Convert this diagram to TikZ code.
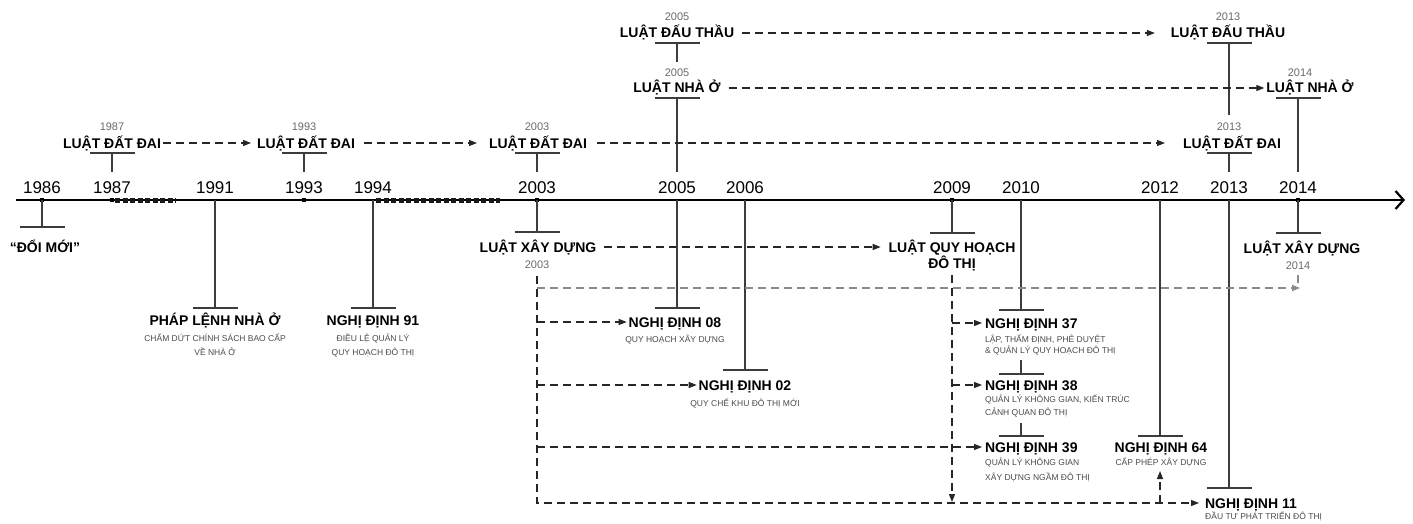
\documentclass[tikz,border=0pt]{standalone}
\usepackage{fontspec}
\setmainfont{Liberation Sans}
\usetikzlibrary{arrows.meta}
\definecolor{lineg}{HTML}{3C3C3C}
\definecolor{yrg}{HTML}{6A6A6A}
\definecolor{subg}{HTML}{4A4A4A}
\definecolor{dashg}{HTML}{8A8A8A}
\tikzset{
 lawtxt/.style={font=\bfseries\fontsize{14}{14}\selectfont, inner sep=0pt, outer sep=0pt},
 yrtxt/.style={font=\fontsize{17}{17}\selectfont, inner sep=0pt},
 syr/.style={font=\fontsize{11}{11}\selectfont, text=yrg, inner sep=0pt},
 subtxt/.style={font=\fontsize{8.5}{8.5}\selectfont, text=subg, inner sep=0pt},
 vline/.style={draw=lineg, line width=1.3pt},
 barline/.style={draw=lineg, line width=1.8pt},
 darr/.style={draw=black!85, line width=1.2pt, dash pattern=on 8pt off 5pt, -{Triangle[length=8pt,width=6pt]}},
 garr/.style={draw=dashg, line width=1.3pt, dash pattern=on 8pt off 5pt, -{Triangle[length=8pt,width=6pt]}},
 gline/.style={draw=dashg, line width=1.3pt, dash pattern=on 8pt off 5pt},
 thickdash/.style={line width=5pt, dash pattern=on 5pt off 2.5pt, draw=black!90},
 tickmark/.style={fill=black, minimum width=4pt, minimum height=4pt, inner sep=0pt},
}
\newcommand\tlbar[1]{\draw[barline] ([xshift=-22.5pt]#1) -- ([xshift=22.5pt]#1);}
\begin{document}
\begin{tikzpicture}[x=1pt,y=-1pt]
\useasboundingbox (0,0) rectangle (1413,524);

% ---------- axis ----------
\coordinate (axL) at (16,200);
\coordinate (axR) at (1405,200);
\draw[line width=2.2pt, -{Straight Barb[length=8pt,width=18pt,line width=2.2pt]}] (axL) -- (axR);
\coordinate (thA1) at (115,200); \coordinate (thA2) at (176,200);
\coordinate (thB1) at (376,200); \coordinate (thB2) at (500,200);
\draw[thickdash] (thA1) -- (thA2);
\draw[thickdash] (thB1) -- (thB2);

\foreach \yr/\xx in {1986/42,1987/112,1991/215,1993/304,1994/373,2003/537,2005/677,2006/745,2009/952,2010/1021,2012/1160,2013/1229,2014/1298}{
  \coordinate (a\yr) at (\xx,200);
  \node[yrtxt, anchor=base] (y\yr) at (\xx,193) {\yr};
  \coordinate (u\yr) at (\xx,172);
}
\foreach \yr in {1986,1987,1993,2003,2009,2014}{ \node[tickmark] (k\yr) at (a\yr) {}; }

% ---------- upper laws ----------
\node[lawtxt, anchor=base] (L1987) at (112,148) {LUẬT ĐẤT ĐAI};
\node[syr, anchor=base] (s1987) at (112,131) {1987};
\coordinate (b1987) at (112,153); \tlbar{b1987}
\draw[vline] (b1987) -- (u1987);

\node[lawtxt, anchor=base] (L1993) at (306,148) {LUẬT ĐẤT ĐAI};
\node[syr, anchor=base] (s1993) at (304,131) {1993};
\coordinate (b1993) at (304,153); \tlbar{b1993}
\draw[vline] (b1993) -- (u1993);

\node[lawtxt, anchor=base] (L2003) at (538,148) {LUẬT ĐẤT ĐAI};
\node[syr, anchor=base] (s2003) at (537,131) {2003};
\coordinate (b2003) at (537,153); \tlbar{b2003}
\draw[vline] (b2003) -- (u2003);

\node[lawtxt, anchor=base] (L2013) at (1232,148) {LUẬT ĐẤT ĐAI};
\node[syr, anchor=base] (s2013) at (1229,131) {2013};
\coordinate (b2013) at (1229,153); \tlbar{b2013}
\draw[vline] (b2013) -- (u2013);

\node[lawtxt, anchor=base] (DT2005) at (677,38) {LUẬT ĐẤU THẦU};
\node[syr, anchor=base] (sDT2005) at (677,21) {2005};
\coordinate (bDT2005) at (677,43); \tlbar{bDT2005}
\coordinate (eDT2005) at (677,62);
\draw[vline] (bDT2005) -- (eDT2005);

\node[lawtxt, anchor=base] (DT2013) at (1228,38) {LUẬT ĐẤU THẦU};
\node[syr, anchor=base] (sDT2013) at (1228,21) {2013};
\coordinate (bDT2013) at (1229,43); \tlbar{bDT2013}
\coordinate (eDT2013) at (1229,115);
\draw[vline] (bDT2013) -- (eDT2013);

\node[lawtxt, anchor=base] (NO2005) at (677,93) {LUẬT NHÀ Ở};
\node[syr, anchor=base] (sNO2005) at (677,77) {2005};
\coordinate (bNO2005) at (677,98); \tlbar{bNO2005}
\draw[vline] (bNO2005) -- (u2005);

\node[lawtxt, anchor=base] (NO2014) at (1310,93) {LUẬT NHÀ Ở};
\node[syr, anchor=base] (sNO2014) at (1300,77) {2014};
\coordinate (bNO2014) at (1298,98); \tlbar{bNO2014}
\draw[vline] (bNO2014) -- (u2014);

\draw[darr] ([yshift=5pt,xshift=2pt]L1987.base east) -- ([yshift=5pt,xshift=-6pt]L1993.base west);
\draw[darr] ([yshift=5pt,xshift=9pt]L1993.base east) -- ([yshift=5pt,xshift=-12pt]L2003.base west);
\draw[darr] ([yshift=5pt,xshift=10pt]L2003.base east) -- ([yshift=5pt,xshift=-18pt]L2013.base west);
\draw[darr] ([yshift=5pt,xshift=8pt]DT2005.base east) -- ([yshift=5pt,xshift=-16pt]DT2013.base west);
\draw[darr] ([yshift=5pt,xshift=8pt]NO2005.base east) -- ([yshift=5pt,xshift=-2pt]NO2014.base west);

% ---------- lower items ----------
\node[lawtxt, anchor=base] (DM) at (45,252) {“ĐỔI MỚI”};
\coordinate (bDM) at (42,227); \tlbar{bDM}
\draw[vline] (a1986) -- (bDM);

\node[lawtxt, anchor=base] (PL) at (215,325) {PHÁP LỆNH NHÀ Ở};
\node[subtxt, anchor=base] (PLs1) at (215,341) {CHẤM DỨT CHÍNH SÁCH BAO CẤP};
\node[subtxt, anchor=base] (PLs2) at (215,355) {VỀ NHÀ Ở};
\coordinate (bPL) at (215,308); \tlbar{bPL}
\draw[vline] (a1991) -- (bPL);

\node[lawtxt, anchor=base] (N91) at (373,325) {NGHỊ ĐỊNH 91};
\node[subtxt, anchor=base] (N91s1) at (373,341) {ĐIỀU LỆ QUẢN LÝ};
\node[subtxt, anchor=base] (N91s2) at (373,355) {QUY HOẠCH ĐÔ THỊ};
\coordinate (bN91) at (373,308); \tlbar{bN91}
\draw[vline] (a1994) -- (bN91);

\node[lawtxt, anchor=base] (XD03) at (538,252) {LUẬT XÂY DỰNG};
\node[syr, anchor=base] (sXD03) at (537,268) {2003};
\coordinate (bXD03) at (537,232); \tlbar{bXD03}
\draw[vline] (a2003) -- (bXD03);

\node[lawtxt, anchor=base] (QH1) at (952,252) {LUẬT QUY HOẠCH};
\node[lawtxt, anchor=base] (QH2) at (952,268) {ĐÔ THỊ};
\coordinate (bQH) at (952,233); \tlbar{bQH}
\draw[vline] (a2009) -- (bQH);
\draw[darr] ([yshift=5pt,xshift=8pt]XD03.base east) -- ([yshift=5pt,xshift=-8pt]QH1.base west);

\node[lawtxt, anchor=base] (XD14) at (1302,253) {LUẬT XÂY DỰNG};
\node[syr, anchor=base] (sXD14) at (1298,269) {2014};
\coordinate (bXD14) at (1298,233); \tlbar{bXD14}
\draw[vline] (a2014) -- (bXD14);

\node[lawtxt, anchor=base] (N08) at (675,327) {NGHỊ ĐỊNH 08};
\node[subtxt, anchor=base] (N08s) at (675,342) {QUY HOẠCH XÂY DỰNG};
\coordinate (bN08) at (677,308); \tlbar{bN08}
\draw[vline] (a2005) -- (bN08);

\node[lawtxt, anchor=base] (N02) at (745,390) {NGHỊ ĐỊNH 02};
\node[subtxt, anchor=base] (N02s) at (745,406) {QUY CHẾ KHU ĐÔ THỊ MỚI};
\coordinate (bN02) at (745,370); \tlbar{bN02}
\draw[vline] (a2006) -- (bN02);

\node[lawtxt, anchor=base west] (N37) at (985,328) {NGHỊ ĐỊNH 37};
\node[subtxt, anchor=base west] (N37s1) at (985,342) {LẬP, THẨM ĐỊNH, PHÊ DUYỆT};
\node[subtxt, anchor=base west] (N37s2) at (985,353) {\& QUẢN LÝ QUY HOẠCH ĐÔ THỊ};
\coordinate (bN37) at (1021,310); \tlbar{bN37}
\draw[vline] (a2010) -- (bN37);

\node[lawtxt, anchor=base west] (N38) at (985,390) {NGHỊ ĐỊNH 38};
\node[subtxt, anchor=base west] (N38s1) at (985,402) {QUẢN LÝ KHÔNG GIAN, KIẾN TRÚC};
\node[subtxt, anchor=base west] (N38s2) at (985,415) {CẢNH QUAN ĐÔ THỊ};
\coordinate (tN38) at (1021,360); \coordinate (bN38) at (1021,374); \tlbar{bN38}
\draw[vline] (tN38) -- (bN38);

\node[lawtxt, anchor=base west] (N39) at (985,452) {NGHỊ ĐỊNH 39};
\node[subtxt, anchor=base west] (N39s1) at (985,465) {QUẢN LÝ KHÔNG GIAN};
\node[subtxt, anchor=base west] (N39s2) at (985,480) {XÂY DỰNG NGẦM ĐÔ THỊ};
\coordinate (tN39) at (1021,423); \coordinate (bN39) at (1021,436); \tlbar{bN39}
\draw[vline] (tN39) -- (bN39);

\node[lawtxt, anchor=base] (N64) at (1161,452) {NGHỊ ĐỊNH 64};
\node[subtxt, anchor=base] (N64s) at (1161,465) {CẤP PHÉP XÂY DỰNG};
\coordinate (bN64) at (1160,436); \tlbar{bN64}
\draw[vline] (a2012) -- (bN64);

\node[lawtxt, anchor=base west] (N11) at (1205,508) {NGHỊ ĐỊNH 11};
\node[subtxt, anchor=base west] (N11s) at (1205,519) {ĐẦU TƯ PHÁT TRIỂN ĐÔ THỊ};
\coordinate (bN11) at (1229,488); \tlbar{bN11}
\draw[vline] (a2013) -- (bN11);

% ---------- dashed connectors below ----------
\coordinate (g1) at (537,288); \coordinate (g2) at (1300,288);
\draw[garr] (g1) -- (g2);
\coordinate (g3) at (1298,275); \coordinate (g4) at (1298,286);
\draw[gline] (g3) -- (g4);

\coordinate (d03) at (537,276);
\draw[darr] (d03) |- ([yshift=5pt,xshift=-6pt]N11.base west);
\coordinate (c08) at (537,322); \coordinate (c02) at (537,385); \coordinate (c39) at (537,447);
\draw[darr] (c08) -- ([yshift=5pt,xshift=-2pt]N08.base west);
\draw[darr] (c02) -- ([yshift=5pt,xshift=-2pt]N02.base west);
\draw[darr] (c39) -- ([yshift=5pt,xshift=-3pt]N39.base west);

\coordinate (d09a) at (952,275); \coordinate (d09b) at (952,502);
\draw[darr] (d09a) -- (d09b);
\coordinate (c37) at (952,323); \coordinate (c38) at (952,385);
\draw[darr] (c37) -- ([yshift=5pt,xshift=-3pt]N37.base west);
\draw[darr] (c38) -- ([yshift=5pt,xshift=-3pt]N38.base west);

\coordinate (d12a) at (1160,503); \coordinate (d12b) at (1160,471);
\draw[darr] (d12a) -- (d12b);
\end{tikzpicture}
\end{document}
